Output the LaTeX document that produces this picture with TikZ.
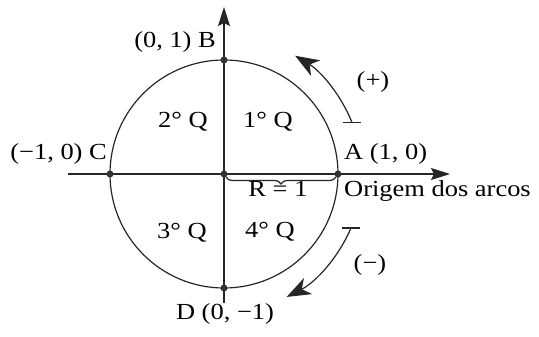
\documentclass[tikz,border=0pt]{standalone}
\usepackage{fontspec}
\setmainfont{Liberation Serif}[FakeStretch=1.15]
\usetikzlibrary{arrows.meta,decorations.pathreplacing,calc}
\begin{document}
\begin{tikzpicture}[x=1pt,y=1pt,
  lbl/.style={inner sep=0pt,font=\fontsize{23}{27}\selectfont},
  ln/.style={line width=1.2pt,draw=black!85},
  dot/.style={circle,fill=black!80,inner sep=0pt,minimum size=7pt},
  axtip/.style={-{Stealth[length=19pt,width=12pt,inset=3pt]}},
  arctip/.style={-{Stealth[length=24pt,width=18pt,inset=7pt]}}]
\fill[white] (-224,-163) rectangle (315,174);
\useasboundingbox (-224,-163) rectangle (315,174);
% named points
\coordinate (O) at (0,0);
\coordinate (A) at (114,0);
\coordinate (B) at (0,114);
\coordinate (C) at (-114,0);
\coordinate (D) at (0,-114);
\coordinate (xl) at (-156,0);
\coordinate (xr) at (226,0);
\coordinate (yb) at (0,-129);
\coordinate (yt) at (0,167);
% circle and axes
\draw[ln] (O) circle[radius=114];
\draw[ln,axtip] (xl) -- (xr);
\draw[ln,axtip] (yb) -- (yt);
% points
\foreach \p in {O,A,B,C,D} \node[dot] at (\p) {};
% brace
\coordinate (br1) at (2,-3);
\coordinate (br2) at (112,-3);
\draw[ln,decorate,decoration={brace,mirror,amplitude=7pt}] (br1) -- (br2);
% labels
\node[lbl,anchor=east] (lB) at (-8,132) {(0, 1) B};
\node[lbl,anchor=east] (lC) at (-117,20) {(−1, 0) C};
\node[lbl,anchor=west] (lA) at (120,20) {A (1, 0)};
\node[lbl,anchor=base west] (lO) at (120,-23) {Origem dos arcos};
\node[lbl,anchor=base] (lR) at (54,-23) {R = 1};
\node[lbl,anchor=north] (lD) at (1,-129) {D (0, −1)};
\node[lbl] (q2) at (-41,52) {2° Q};
\node[lbl] (q1) at (44,52) {1° Q};
\node[lbl] (q3) at (-42,-59) {3° Q};
\node[lbl] (q4) at (46,-58) {4° Q};
\node[lbl] (plus) at (149,92) {(+)};
\node[lbl] (minus) at (146,-91) {(−)};
% orientation arcs
\coordinate (ps) at (22:138);
\coordinate (ms) at (-23:138);
\draw[ln] ($(ps)+(-9,0)$) -- ($(ps)+(9,0)$);
\draw[ln,arctip] (ps) arc[start angle=22,end angle=59,radius=138];
\draw[ln] ($(ms)+(-9,0)$) -- ($(ms)+(9,0)$);
\draw[ln,arctip] (ms) arc[start angle=-23,end angle=-63,radius=138];
\end{tikzpicture}
\end{document}
